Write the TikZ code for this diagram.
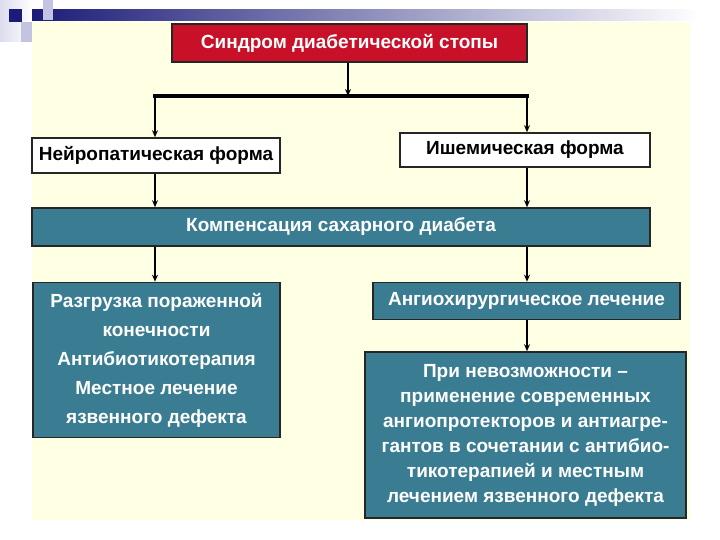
\documentclass[tikz,border=0pt]{standalone}
\usepackage{fontspec}
\setmainfont{Liberation Sans}
\usetikzlibrary{arrows.meta}
\definecolor{cream}{RGB}{255,255,228}
\definecolor{navy}{RGB}{28,28,120}
\definecolor{lav}{RGB}{196,196,226}
\definecolor{redbox}{RGB}{200,16,40}
\definecolor{teal}{RGB}{58,125,146}
\tikzset{
  box/.style={draw=black!85, line width=1.6pt, inner sep=0pt, align=center, font=\fontsize{19}{27}\selectfont\bfseries},
  redstyle/.style={box, fill=redbox, text=white},
  whitestyle/.style={box, fill=white, text=black},
  tealstyle/.style={box, fill=teal, text=white},
  arr/.style={line width=2.6pt, -{Stealth[length=7pt,width=6pt]}},
  bar/.style={line width=3.2pt}
}
\begin{document}
\begin{tikzpicture}[x=1pt,y=-1pt]
\useasboundingbox (0,0) rectangle (720,540);
\fill[white] (0,0) rectangle (720,540);
% slide decoration
\shade[left color=lav!60, right color=white] (0,0) rectangle (32,42);
\fill[cream] (32,22) rectangle (690,520);
\shade[left color=navy, right color=white] (32,10) rectangle (700,21);
\fill[lav] (43,0) rectangle (53,20);
\fill[lav] (21,22) rectangle (32,42);
\fill[navy] (9,9) rectangle (22,22);
% nodes
\node[redstyle, minimum width=355pt, minimum height=38pt] (top) at (349.5,43) {Синдром диабетической стопы};
\node[whitestyle, minimum width=248pt, minimum height=35pt] (neuro) at (156,155.5) {Нейропатическая форма};
\node[whitestyle, minimum width=250pt, minimum height=34pt] (isch) at (525,150) {Ишемическая форма};
\node[tealstyle, minimum width=618pt, minimum height=38pt] (comp) at (341,227) {Компенсация сахарного диабета};
\node[tealstyle, minimum width=247pt, minimum height=155pt, font=\fontsize{19}{29}\selectfont\bfseries] (left) at (156.5,360) {Разгрузка пораженной\\конечности\\Антибиотикотерапия\\Местное лечение\\язвенного дефекта};
\node[tealstyle, minimum width=307pt, minimum height=37pt] (angio) at (526.5,301) {Ангиохирургическое лечение};
\node[tealstyle, minimum width=321pt, minimum height=166pt, font=\fontsize{19}{25}\selectfont\bfseries] (right) at (525.5,435) {При невозможности –\\применение современных\\ангиопротекторов и антиагре-\\гантов в сочетании с антибио-\\тикотерапией и местным\\лечением язвенного дефекта};
% connectors
\coordinate (j) at (348,96);
\coordinate (jl) at (155,96);
\coordinate (jr) at (527,96);
\draw[arr] (top.south -| j) -- (j);
\draw[bar] ([xshift=-1.6pt]jl) -- ([xshift=1.6pt]jr);
\draw[arr] (jl) -- (jl |- neuro.north);
\draw[arr] (jr) -- (jr |- isch.north);
\draw[arr] (jl |- neuro.south) -- (jl |- comp.north);
\draw[arr] (jr |- isch.south) -- (jr |- comp.north);
\draw[arr] (jl |- comp.south) -- (jl |- left.north);
\draw[arr] (jr |- comp.south) -- (jr |- angio.north);
\draw[arr] (jr |- angio.south) -- (jr |- right.north);
\end{tikzpicture}
\end{document}
